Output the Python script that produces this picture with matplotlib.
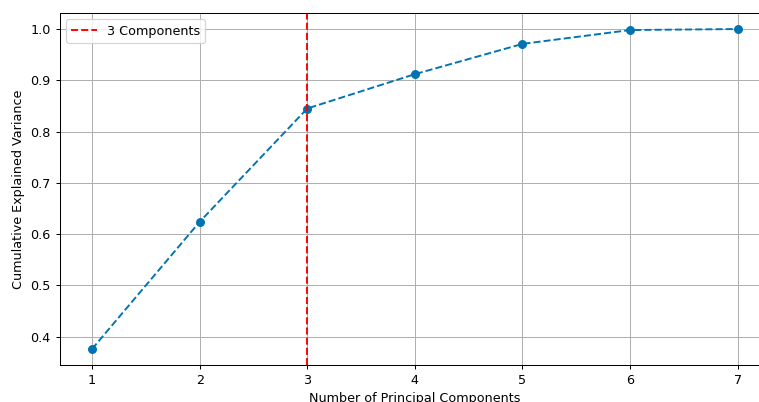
import matplotlib
matplotlib.use("Agg")
import matplotlib.pyplot as plt

components = [1, 2, 3, 4, 5, 6, 7]
cumulative_variance = [0.376, 0.624, 0.845, 0.912, 0.971, 0.998, 1.0]
chosen_components = 3

DPI = 92
fig = plt.figure(figsize=(759 / DPI, 402 / DPI), dpi=DPI)
ax = fig.add_axes([0.0787, 0.092, 0.9358, 0.8756])
ax.plot(components, cumulative_variance, marker='o', linestyle='--', color='#0173B2')
ax.axvline(x=chosen_components, color='r', linestyle='--', label=f'{chosen_components} Components')
ax.set_xlabel('Number of Principal Components')
ax.set_ylabel('Cumulative Explained Variance')
ax.set_xticks(components)
ax.grid(True)
ax.legend(loc='upper left')
fig.savefig('out.png', dpi=DPI)
